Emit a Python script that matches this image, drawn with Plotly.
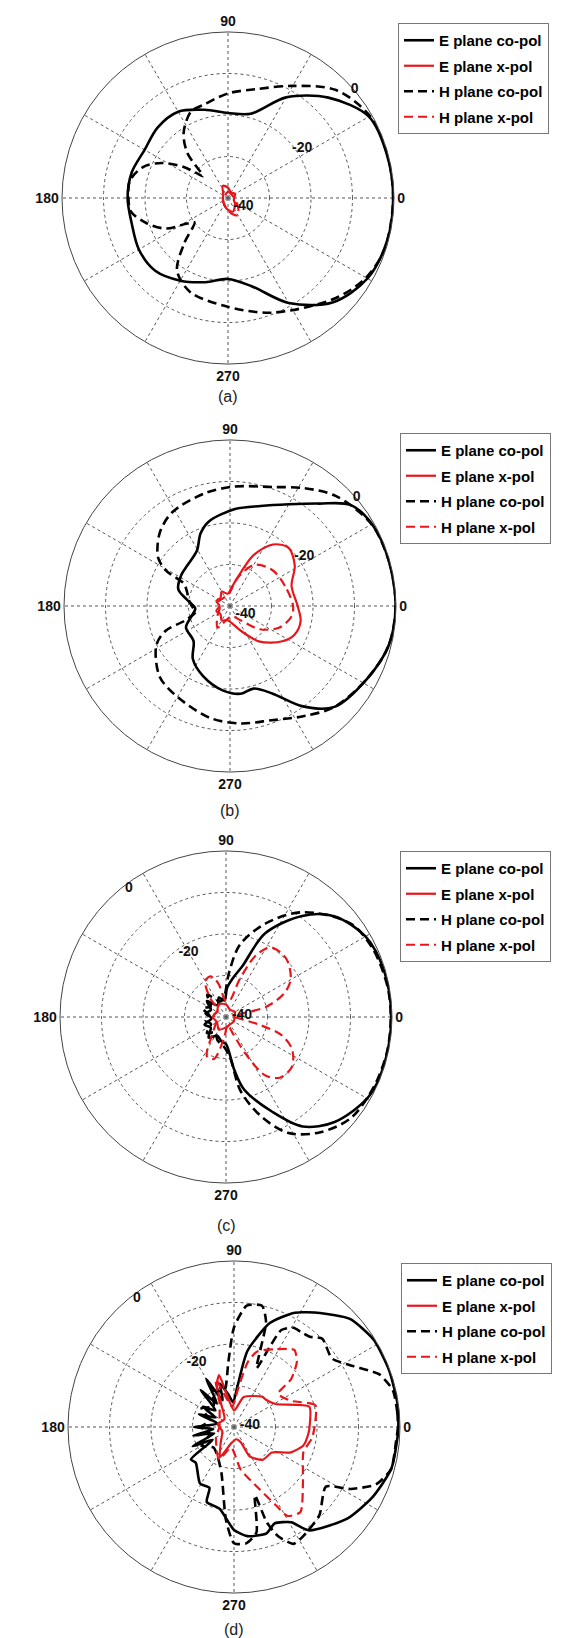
import plotly.graph_objects as go

# ---------------- data (angle in degrees, level in dB) ----------------
# (a)
A_E_CO_DEG = [0, 15, 30, 45, 60, 75, 90, 105, 120, 135, 150, 165, 180, 195, 210, 225, 240, 255, 270, 285, 300, 315, 330, 345]
A_E_CO_DB = [-0.2, -0.3, -0.8, -5.8, -12, -19, -19.5, -18, -16, -16, -16.8, -16, -15.8, -16, -15.2, -15.2, -17, -19, -20.5, -18, -10.8, -4.4, -1.2, -0.3]
A_E_X_DEG = [0, 30, 60, 90, 113, 140, 180, 220, 260, 290, 320, 340]
A_E_X_DB = [-38.5, -38, -38.5, -37.5, -36.8, -38.5, -38.8, -38.5, -37.5, -36.5, -37.8, -38.5]
A_H_CO_DEG = [0, 15, 30, 45, 60, 75, 90, 105, 113, 124, 132, 139, 142, 145, 152, 160, 170, 180, 188, 197, 206, 212, 216, 226, 235, 248, 268, 291, 317, 330, 342]
A_H_CO_DB = [-0.2, -0.2, -0.5, -3.2, -8.8, -12.8, -14.8, -16.8, -17.3, -20.9, -25.3, -32, -30, -27, -22, -18.2, -16, -16, -16.4, -19.4, -23.2, -28.4, -30, -24.8, -18.6, -15.6, -14, -10.4, -4.6, -1.6, -0.3]
A_H_X_DEG = [0, 45, 90, 135, 180, 225, 260, 285, 300, 315, 340]
A_H_X_DB = [-38.5, -38.8, -38.5, -39, -38.8, -38.5, -37.5, -36, -35.2, -36.5, -38]

# (b)
B_E_CO_DEG = [0, 16, 30, 40, 49, 60, 73, 87, 104, 112, 121, 136, 148, 162, 172, 184, 196, 206, 224, 235, 249, 265, 277, 286, 296, 306, 316, 332, 346]
B_E_CO_DB = [-0.1, -0.2, -0.5, -2.1, -7.3, -11.7, -14.8, -16.6, -19, -21.1, -24.5, -25.8, -26.1, -26.9, -29.6, -31.6, -30.2, -28.2, -27.8, -24.4, -21.9, -19.6, -18.7, -19.3, -16.5, -10.1, -5, -2.6, -0.6]
B_E_X_DEG = [0, 18, 32, 45, 55, 65, 72, 85, 100, 120, 140, 160, 180, 200, 220, 240, 260, 280, 294, 310, 326, 336, 348]
B_E_X_DB = [-23.7, -24.4, -21.6, -20.1, -21.9, -26.4, -31.4, -35.5, -37, -36, -37, -36.5, -37.5, -36.5, -37, -36, -36.5, -35.5, -33.4, -28.8, -24.8, -23, -22.6]
B_H_CO_DEG = [0, 15, 30, 46, 58, 70, 88, 103, 122, 134, 146, 151, 154, 161, 172, 181, 190, 198, 201, 208, 225, 240, 260, 275, 290, 304, 316, 332, 346]
B_H_CO_DB = [-0.1, -0.2, -0.6, -3.2, -6.5, -9.5, -11.2, -12.2, -13.5, -15.6, -19.1, -22.4, -27.6, -29, -30, -30.9, -31.5, -28.4, -23.4, -19.9, -16, -14.7, -12.6, -11.6, -10.7, -8, -5, -2.6, -0.6]
B_H_X_DEG = [0, 20, 40, 59, 75, 95, 130, 160, 190, 220, 240, 255, 280, 307, 322, 336, 350]
B_H_X_DB = [-24.8, -25.9, -26.6, -28.4, -33, -37, -37.5, -37, -37.5, -36, -34, -36.5, -37.5, -35.6, -30.9, -27.1, -25]

# (c)
C_E_CO_DEG = [0, 16, 30, 43, 53, 65, 72, 80, 88, 95, 110, 125, 140, 155, 170, 185, 200, 215, 230, 245, 260, 270, 279, 284, 296, 305, 316, 331, 344]
C_E_CO_DB = [-0.2, -0.3, -1.2, -4.4, -9.5, -17.8, -27, -30.5, -33, -36, -35, -36.5, -34, -36, -35, -36.5, -34.5, -35.5, -33.5, -35, -34, -33.5, -27, -22, -14.6, -7.8, -3.6, -0.6, -0.2]
C_E_X_DEG = [0, 30, 60, 90, 120, 150, 180, 210, 240, 270, 300, 330]
C_E_X_DB = [-38, -37.5, -38, -37, -36.5, -37.5, -36.8, -37.5, -36.5, -37.5, -38, -37.8]
C_H_CO_DEG = [0, 11, 25, 37, 54, 67, 79, 86, 95, 110, 130, 145, 160, 175, 190, 205, 220, 235, 250, 265, 276, 281, 289, 298, 309, 321, 335, 348]
C_H_CO_DB = [-0.3, -0.4, -1, -2.5, -8.8, -15.5, -22.2, -29.2, -35, -36, -33, -35.5, -34, -36, -35, -36, -34, -35.5, -34, -33, -30, -22, -15, -8.4, -4.2, -1.3, -0.6, -0.3]
C_H_X_DEG = [0, 6, 11, 14, 22, 30, 44, 57, 64, 70, 78, 92, 103, 111, 120, 130, 140, 170, 200, 230, 244, 254, 265, 282, 292, 298, 304, 312, 323, 334, 342, 347, 354]
C_H_X_DB = [-38, -37, -36.5, -30.2, -24.9, -22, -19.8, -20, -23.4, -30.3, -36, -36, -31.6, -29.5, -30, -34, -37.5, -37, -37.5, -35, -29.5, -29.5, -35, -38, -36, -30, -23, -20.4, -20.1, -22.3, -26, -31.8, -37]

# (d)
D_E_CO_DEG = [0, 8, 20, 32, 43, 53, 62, 71, 80, 85, 92, 100, 108, 113, 120, 126, 132, 138, 147, 153, 160, 168, 180, 186, 192, 198, 205, 211, 217, 223, 239, 248, 250, 260, 270, 277, 287, 293, 301, 306, 321, 333, 345, 357]
D_E_CO_DB = [-0.4, -0.2, -0.2, -0.3, -1.8, -5.6, -8.8, -13.5, -21.4, -30, -34, -32, -29, -33, -26.6, -33, -28, -34, -31, -35, -31, -36, -30.3, -35, -30, -35, -29, -34, -27, -27.4, -24.1, -24.2, -20.8, -20, -15.2, -13.5, -13.2, -14.8, -13.2, -9.2, -4.9, -2.6, -0.8, -0.5]
D_E_X_DEG = [0, 15, 29, 41, 47, 72, 90, 106, 112, 120, 140, 170, 200, 230, 245, 260, 280, 294, 298, 311, 326, 336, 345, 355]
D_E_X_DB = [-21.8, -21.2, -28.6, -29.9, -30, -32.4, -36, -27, -29, -34, -37, -36, -37, -35, -32, -36, -37, -36, -32, -29.5, -29, -25, -22.7, -22]
D_H_CO_DEG = [0, 5, 13, 20, 27, 35, 45, 50, 55, 59, 64, 66, 69, 73, 77, 84, 90, 95, 105, 120, 135, 150, 165, 180, 195, 210, 225, 240, 255, 265, 270, 276, 282, 287, 289, 292, 297, 302, 314, 327, 332, 338, 345, 355]
D_H_CO_DB = [-0.5, -0.5, -0.7, -2.8, -7.7, -11.2, -9.9, -11.6, -12, -12.1, -14, -19, -24.8, -13.6, -10, -10.6, -16, -24.3, -31, -30, -33, -31, -34, -32, -34, -31, -33, -32, -28.4, -17.6, -12, -11.8, -14, -22.8, -15.7, -11.6, -8.4, -8.8, -10.4, -13.6, -8.2, -3.1, -0.8, -0.8]
D_H_X_DEG = [0, 15, 25, 37, 40, 46, 52, 62, 73, 78, 84, 95, 111, 120, 150, 180, 210, 245, 262, 279, 292, 298, 301, 308, 322, 340, 352]
D_H_X_DB = [-20.6, -19.7, -25, -26.7, -22, -18.2, -16.4, -18.8, -21, -24, -30.8, -35, -27.6, -33, -36, -36.5, -35, -31.4, -35, -29.6, -24, -18.8, -15, -14, -18.9, -22.2, -21]

SERIES_NAMES = ["E plane co-pol", "E plane x-pol", "H plane co-pol", "H plane x-pol"]
PANEL_LABELS = ["(a)", "(b)", "(c)", "(d)"]
R_TICKS = [-40, -30, -20, -10, 0]
R_TICKTEXT = ["-40", "", "-20", "", "0"]
ANG_TICKS = list(range(0, 360, 30))
ANG_TICKTEXT = ["0", "", "", "90", "", "", "180", "", "", "270", "", ""]

PANELS = [
    [(A_E_CO_DEG, A_E_CO_DB), (A_E_X_DEG, A_E_X_DB), (A_H_CO_DEG, A_H_CO_DB), (A_H_X_DEG, A_H_X_DB)],
    [(B_E_CO_DEG, B_E_CO_DB), (B_E_X_DEG, B_E_X_DB), (B_H_CO_DEG, B_H_CO_DB), (B_H_X_DEG, B_H_X_DB)],
    [(C_E_CO_DEG, C_E_CO_DB), (C_E_X_DEG, C_E_X_DB), (C_H_CO_DEG, C_H_CO_DB), (C_H_X_DEG, C_H_X_DB)],
    [(D_E_CO_DEG, D_E_CO_DB), (D_E_X_DEG, D_E_X_DB), (D_H_CO_DEG, D_H_CO_DB), (D_H_X_DEG, D_H_X_DB)],
]

# ---------------- layout / style ----------------
W, H = 581, 1638
R = 166
# (center x, center y, radial label angle, legend left, legend top, caption y) in pixels
GEOM = [
    (220, 190, 45, 390, 15, 388),
    (222, 598, 45, 392, 425, 802),
    (218, 1009, 130, 392, 843, 1217),
    (226, 1419, 130, 393, 1255, 1621),
]
STYLES = [
    dict(color="#000000", width=2.6, dash="solid"),
    dict(color="#e8161b", width=2.2, dash="solid"),
    dict(color="#000000", width=2.6, dash="9px,5px"),
    dict(color="#e8161b", width=2.2, dash="9px,5px"),
]
FONT = "Liberation Sans, Arial, sans-serif"

fig = go.Figure()
layout = dict(
    width=W, height=H, margin=dict(l=0, r=0, t=0, b=0),
    paper_bgcolor="white", plot_bgcolor="white",
    font=dict(family=FONT, color="#111"),
    annotations=[],
)

for i, (panel, geom) in enumerate(zip(PANELS, GEOM)):
    cx, cy, rang, lx, ly, capy = geom
    pkey = "polar" if i == 0 else f"polar{i+1}"
    lkey = "legend" if i == 0 else f"legend{i+1}"
    for k, ((deg, db), name, st) in enumerate(zip(panel, SERIES_NAMES, STYLES)):
        fig.add_trace(go.Scatterpolar(
            theta=list(deg) + [deg[0] + 360], r=list(db) + [db[0]],
            mode="lines", name="<b>" + name + "</b>",
            line=dict(color=st["color"], width=st["width"], dash=st["dash"],
                      shape="spline", smoothing=0.9 if i < 3 else 0.6),
            subplot=pkey, legend=lkey, legendgroup=f"g{i}_{k}", hoverinfo="skip",
        ))
    layout[pkey] = dict(
        domain=dict(x=[(cx - R) / W, (cx + R) / W], y=[1 - (cy + R) / H, 1 - (cy - R) / H]),
        bgcolor="white",
        radialaxis=dict(range=[-40, 0], tickvals=R_TICKS,
                        ticktext=["<b>" + t + "</b>" if t else "" for t in R_TICKTEXT],
                        angle=rang, tickangle=rang, showline=False, ticks="",
                        gridcolor="#555", griddash="dot", gridwidth=1,
                        tickfont=dict(size=14, color="#111", family=FONT)),
        angularaxis=dict(rotation=0, direction="counterclockwise", tickvals=ANG_TICKS,
                         ticktext=["<b>" + t + "</b>" if t else "" for t in ANG_TICKTEXT],
                         ticks="", showline=True, linecolor="#444", linewidth=1,
                         gridcolor="#555", griddash="dot", gridwidth=1,
                         tickfont=dict(size=14, color="#111", family=FONT)),
    )
    layout[lkey] = dict(
        x=lx / W, y=1 - ly / H, xanchor="left", yanchor="top",
        bgcolor="white", bordercolor="#777", borderwidth=1,
        font=dict(family=FONT, size=15, color="#000"),
        tracegroupgap=3, itemwidth=30,
    )
    layout["annotations"].append(dict(
        x=cx / W, y=1 - capy / H, xref="paper", yref="paper",
        text=PANEL_LABELS[i], showarrow=False, font=dict(size=16, family=FONT, color="#222"),
        xanchor="center", yanchor="middle",
    ))

fig.update_layout(**layout)
fig.write_html("out.html")
